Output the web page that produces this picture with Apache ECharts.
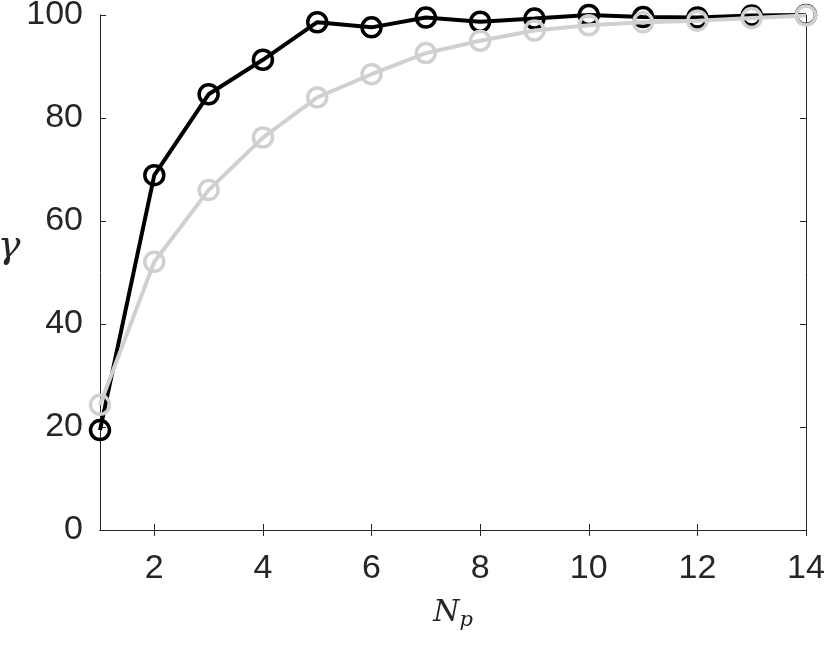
<!DOCTYPE html>
<html>
<head>
<meta charset="utf-8">
<script src="https://cdn.jsdelivr.net/npm/echarts@6/dist/echarts.min.js"></script>
<style>
  html, body { margin: 0; padding: 0; background: #fff; }
  #chart { width: 830px; height: 648px; }
</style>
</head>
<body>
<div id="chart"></div>
<script>
// x values (N_p) and the two curves of gamma
const np = [1, 2, 3, 4, 5, 6, 7, 8, 9, 10, 11, 12, 13, 14];
const gammaBlack = [19.4, 68.9, 84.6, 91.3, 98.6, 97.6, 99.5, 98.7, 99.3, 100, 99.6, 99.5, 99.9, 100];
const gammaGray = [24.3, 52.1, 66.0, 76.2, 84.0, 88.5, 92.6, 95.0, 97.0, 98.0, 98.6, 98.9, 99.4, 99.9];
const xTicks = [2, 4, 6, 8, 10, 12, 14];
const yTicks = [0, 20, 40, 60, 80, 100];

const axisColor = '#262626';
const labelFont = { fontFamily: 'Liberation Sans', fontSize: 34, color: axisColor };

const toPairs = (ys) => np.map((x, i) => [x, ys[i]]);

// 初始化图表
const myChart = echarts.init(document.getElementById('chart'), null, { renderer: 'canvas' });

const option = {
  animation: false,
  backgroundColor: '#fff',
  grid: { left: 100, right: 24, top: 15, bottom: 118, outerBoundsMode: 'none', containLabel: false },
  xAxis: [
    {
      type: 'value',
      min: 1,
      max: 14,
      axisLine: { show: true, lineStyle: { color: axisColor, width: 1 } },
      axisTick: { show: true, inside: true, length: 6, customValues: xTicks, lineStyle: { color: axisColor } },
      axisLabel: { ...labelFont, margin: 22, customValues: xTicks },
      splitLine: { show: false },
      name: '{n|N}{p|p}',
      nameLocation: 'middle',
      nameGap: 66,
      nameTextStyle: {
        rich: {
          n: { fontFamily: 'DejaVu Serif', fontStyle: 'italic', fontSize: 30, color: axisColor },
          p: { fontFamily: 'DejaVu Serif', fontStyle: 'italic', fontSize: 21, color: axisColor, padding: [14, 0, 0, 0] },
        },
      },
    },
    {
      type: 'value',
      position: 'top',
      min: 1,
      max: 14,
      axisLine: { show: true, lineStyle: { color: axisColor, width: 1 } },
      axisTick: { show: true, inside: true, length: 6, customValues: xTicks, lineStyle: { color: axisColor } },
      axisLabel: { show: false },
      splitLine: { show: false },
    },
  ],
  yAxis: [
    {
      type: 'value',
      min: 0,
      max: 100,
      interval: 20,
      axisLine: { show: true, lineStyle: { color: axisColor, width: 1 } },
      axisTick: { show: true, inside: true, length: 6, lineStyle: { color: axisColor } },
      axisLabel: { ...labelFont, margin: 17 },
      splitLine: { show: false },
      name: 'γ',
      nameLocation: 'middle',
      nameGap: 75,
      nameRotate: 0,
      nameTextStyle: {
        fontFamily: 'DejaVu Serif', fontStyle: 'italic', fontSize: 38, color: axisColor,
        verticalAlign: 'bottom',
        padding: [0, 0, 6, 0],
      },
    },
    {
      type: 'value',
      position: 'right',
      min: 0,
      max: 100,
      interval: 20,
      axisLine: { show: true, lineStyle: { color: axisColor, width: 1 } },
      axisTick: { show: true, inside: true, length: 6, lineStyle: { color: axisColor } },
      axisLabel: { show: false },
      splitLine: { show: false },
    },
  ],
  series: [
    {
      type: 'line',
      data: toPairs(gammaBlack),
      symbol: 'circle',
      symbolSize: 19,
      lineStyle: { color: '#000', width: 4 },
      itemStyle: { color: 'rgba(0,0,0,0)', borderColor: '#000', borderWidth: 3.5 },
      z: 2,
    },
    {
      type: 'line',
      data: toPairs(gammaGray),
      symbol: 'circle',
      symbolSize: 19,
      lineStyle: { color: '#d0d0d0', width: 4 },
      itemStyle: { color: 'rgba(0,0,0,0)', borderColor: '#d0d0d0', borderWidth: 3.5 },
      z: 3,
    },
  ],
};

myChart.setOption(option);
</script>
</body>
</html>
